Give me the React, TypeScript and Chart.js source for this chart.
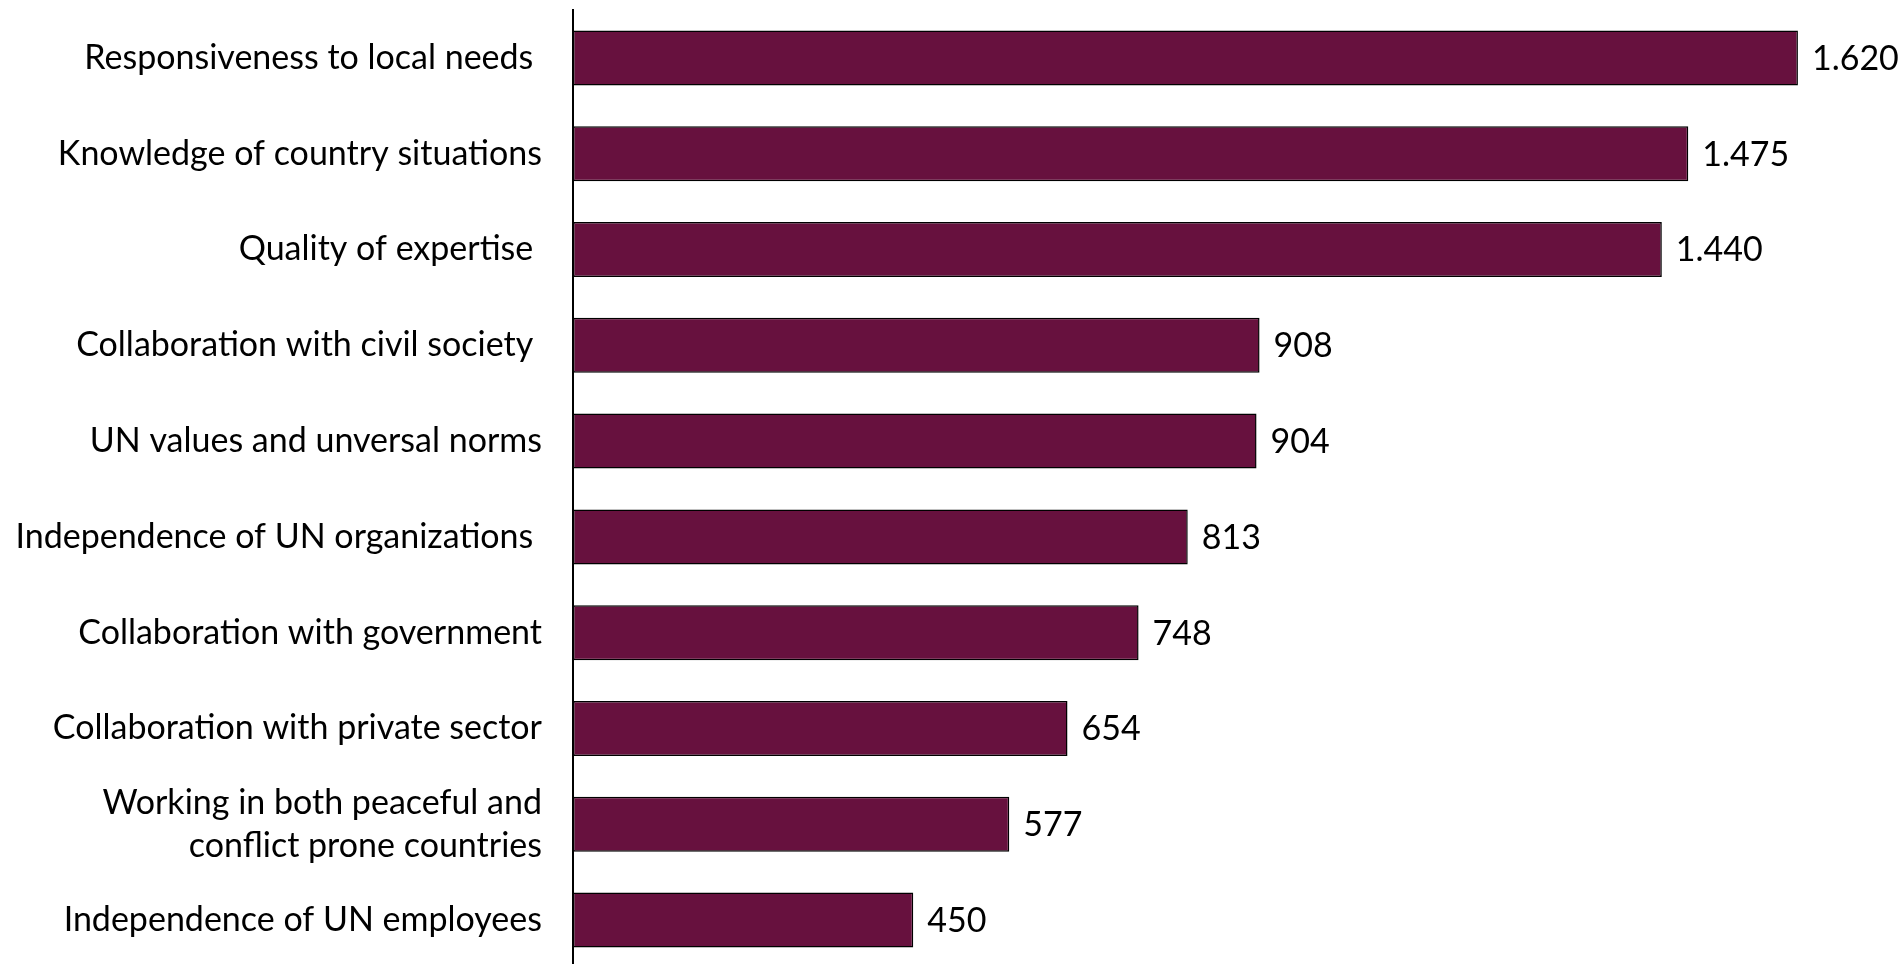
import React, { useEffect, useRef } from "react";
import { Chart, registerables } from "chart.js";

Chart.register(...registerables);

const categories: (string | string[])[] = [
  "Responsiveness to local needs ",
  "Knowledge of country situations",
  "Quality of expertise ",
  "Collaboration with civil society ",
  "UN values and unversal norms",
  "Independence of UN organizations ",
  "Collaboration with government",
  "Collaboration with private sector",
  ["Working in both peaceful and", "conflict prone countries"],
  "Independence of UN employees",
];

const values: number[] = [1620, 1475, 1440, 908, 904, 813, 748, 654, 577, 450];

const FONT_FAMILY = "Lato, 'Noto Sans', sans-serif";
const FONT_SIZE = 34;

function formatValue(v: number): string {
  const s = String(Math.round(v));
  return s.replace(/\B(?=(\d{3})+(?!\d))/g, ".");
}

const valueLabelPlugin = {
  id: "valueLabels",
  afterDatasetsDraw(chart: any) {
    const ctx = chart.ctx;
    const meta = chart.getDatasetMeta(0);
    ctx.save();
    ctx.font = `${FONT_SIZE}px ${FONT_FAMILY}`;
    ctx.fillStyle = "#000000";
    ctx.textAlign = "left";
    ctx.textBaseline = "middle";
    meta.data.forEach((bar: any, i: number) => {
      const v = chart.data.datasets[0].data[i] as number;
      ctx.fillText(formatValue(v), bar.x + 14, bar.y + 1);
    });
    ctx.restore();
  },
};

export default function App() {
  const canvasRef = useRef<HTMLCanvasElement | null>(null);

  useEffect(() => {
    if (!canvasRef.current) return;
    const chart = new Chart(canvasRef.current, {
      type: "bar",
      data: {
        labels: categories,
        datasets: [
          {
            data: values,
            backgroundColor: "#67113E",
            borderColor: "#000000",
            borderWidth: 1.5,
            borderSkipped: false,
            categoryPercentage: 1,
            barPercentage: 0.574,
          },
        ],
      },
      options: {
        indexAxis: "y",
        animation: false,
        responsive: false,
        maintainAspectRatio: false,
        layout: { padding: { top: 10, right: 0, bottom: 0, left: 0 } },
        plugins: {
          legend: { display: false },
          tooltip: { enabled: false },
          title: { display: false },
        },
        scales: {
          x: {
            min: 0,
            max: 1755,
            display: false,
            grid: { display: false },
          },
          y: {
            afterFit(scale: any) {
              scale.width = 573;
              scale.paddingTop = 0;
              scale.paddingBottom = 0;
            },
            grid: { display: false, drawTicks: false },
            border: { display: true, color: "#000000", width: 2 },
            ticks: {
              color: "#000000",
              padding: 31,
              font: { family: FONT_FAMILY, size: FONT_SIZE, lineHeight: 1.26 },
            },
          },
        },
      },
      plugins: [valueLabelPlugin],
    });
    return () => chart.destroy();
  }, []);

  return (
    <div
      style={{
        position: "fixed",
        top: 0,
        left: 0,
        width: 1900,
        height: 968,
        background: "#ffffff",
      }}
    >
      <canvas ref={canvasRef} width={1900} height={968} />
    </div>
  );
}
